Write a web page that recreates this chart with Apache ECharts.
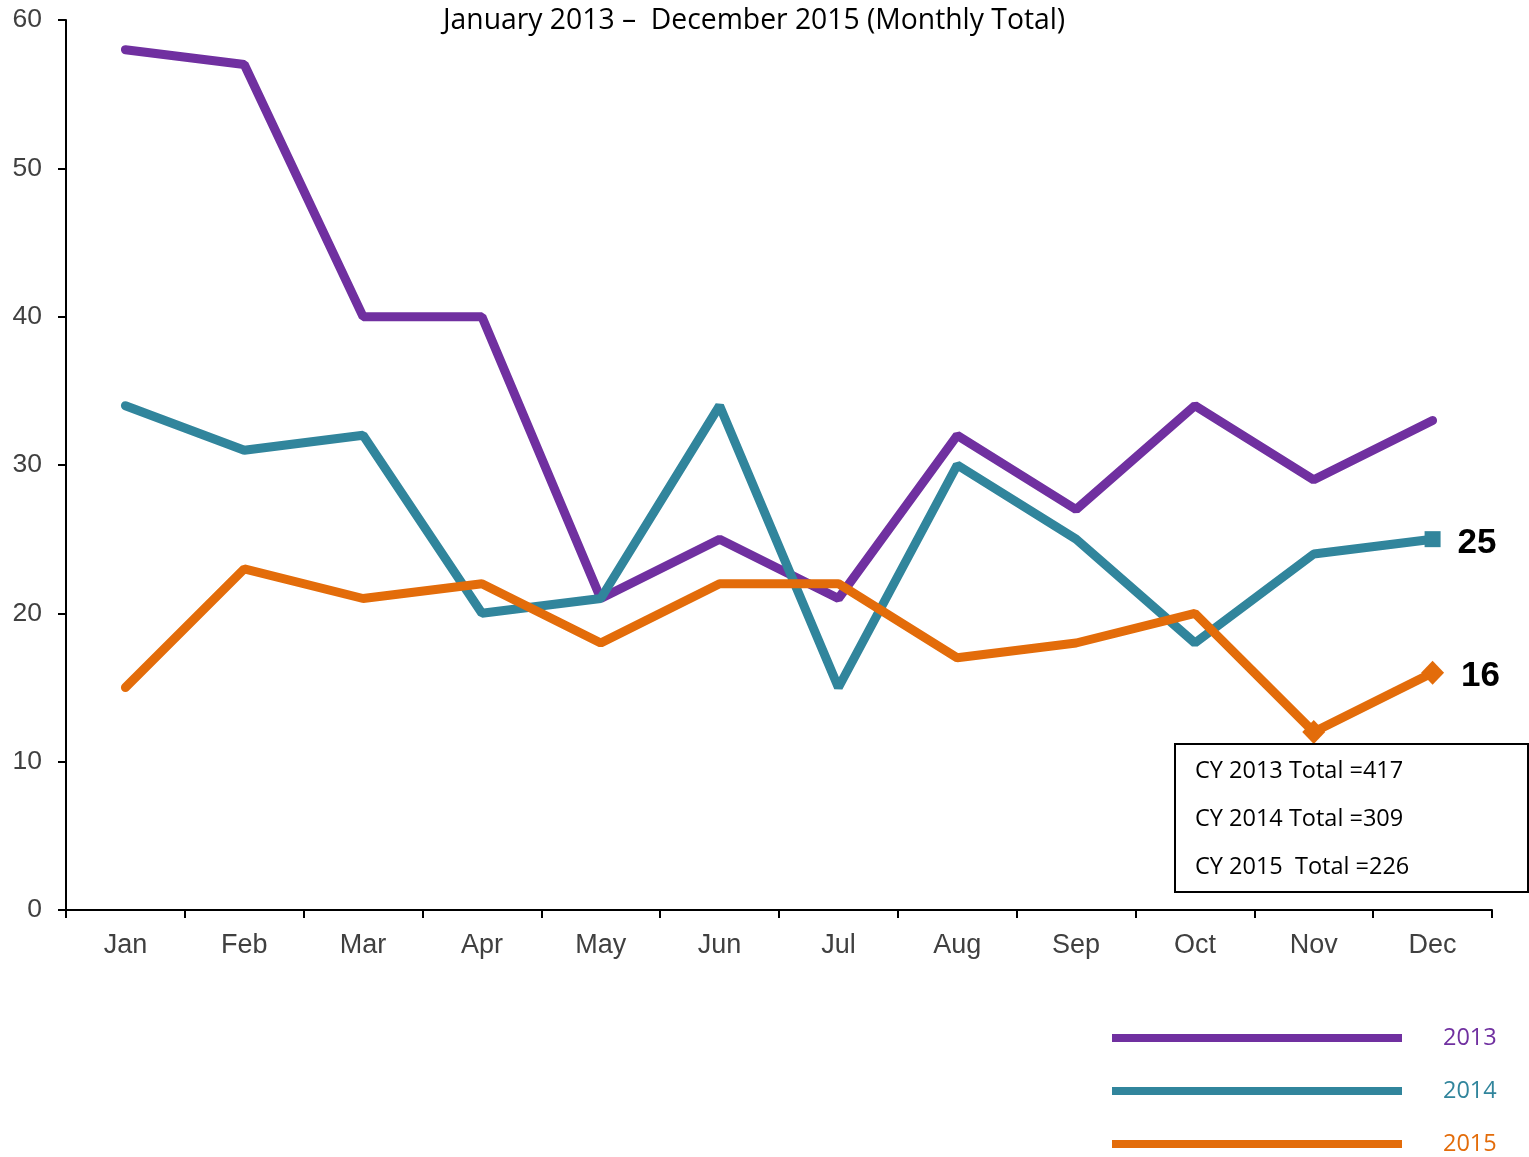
<!DOCTYPE html>
<html><head><meta charset="utf-8">
<script src="https://cdn.jsdelivr.net/npm/echarts@6/dist/echarts.min.js"></script>
<style>html,body{margin:0;padding:0;background:#fff}#c{width:1529px;height:1157px}</style>
</head><body><div id="c"></div>
<script>
const months = ['Jan','Feb','Mar','Apr','May','Jun','Jul','Aug','Sep','Oct','Nov','Dec'];
const s2013 = [58,57,40,40,21,25,21,32,27,34,29,33];
const s2014 = [34,31,32,20,21,34,15,30,25,18,24,25];
const s2015 = [15,23,21,22,18,22,22,17,18,20,12,16];
const yTicks = [0,10,20,30,40,50,60];
const titleText = 'January 2013 \u2013  December 2015 (Monthly Total)';
const totals = ['CY 2013 Total =417','CY 2014 Total =309','CY 2015  Total =226'];
const colors = {'2013':'#7030a0','2014':'#31859c','2015':'#e36c0a'};

const chart = echarts.init(document.getElementById('c'));
const lastIdx = months.length - 1;
function withMarkers(arr, markIdx, symbol, size, showLabelAtEnd) {
  return arr.map((v, i) => {
    const o = {value: v};
    if (markIdx.includes(i)) {
      o.symbol = symbol; o.symbolSize = size;
      o.itemStyle = {opacity: 1};
    }
    if (showLabelAtEnd && i === lastIdx) {
      o.label = {show: true, position: 'right', distance: 17, offset: [0, 4], fontFamily: 'Liberation Sans, Arial', fontWeight: 'bold', fontSize: 35, color: '#000', formatter: '{c}'};
    }
    return o;
  });
}
chart.setOption({
  animation: false,
  grid: {left: 66, right: 37, top: 20, bottom: 247},
  title: {text: titleText, left: 443, top: 7, padding: 0, textStyle: {fontFamily: 'Open Sans, Noto Sans', fontWeight: 'normal', fontSize: 28.3, color: '#000'}},
  xAxis: {
    type: 'category', data: months, boundaryGap: true,
    axisLine: {lineStyle: {color: '#000', width: 2}},
    axisTick: {show: true, length: 8, lineStyle: {color: '#000', width: 2}},
    axisLabel: {margin: 22, fontFamily: 'Liberation Sans, Arial', fontSize: 27, color: '#404040'}
  },
  yAxis: {
    type: 'value', min: 0, max: 60, interval: 10,
    axisLine: {show: true, lineStyle: {color: '#000', width: 2}},
    axisTick: {show: true, length: 8, lineStyle: {color: '#000', width: 2}},
    splitLine: {show: false},
    axisLabel: {margin: 24, fontFamily: 'Liberation Sans, Arial', fontSize: 26.5, color: '#404040',
      formatter: v => yTicks.includes(v) ? String(v) : ''}
  },
  legend: {
    orient: 'vertical', left: 1112, top: 1026, height: 140, padding: 0, itemWidth: 290, itemHeight: 8, itemGap: 29,
    icon: 'rect',
    textStyle: {fontFamily: 'Open Sans, Noto Sans', fontSize: 23.5, lineHeight: 24, padding: [0,0,0,36]},
    data: [
      {name: '2013', textStyle: {color: colors['2013']}},
      {name: '2014', textStyle: {color: colors['2014']}},
      {name: '2015', textStyle: {color: colors['2015']}}
    ]
  },
  series: [
    {name: '2013', type: 'line', data: s2013, color: colors['2013'], lineStyle: {width: 9, cap: 'round'}, showSymbol: false, symbol: 'none'},
    {name: '2014', type: 'line', data: withMarkers(s2014, [lastIdx], 'rect', 16, true), color: colors['2014'], lineStyle: {width: 9, cap: 'round'}, symbol: 'none', showAllSymbol: true},
    {name: '2015', type: 'line', data: withMarkers(s2015, [10, lastIdx], 'diamond', [23, 24], true), color: colors['2015'], lineStyle: {width: 9, cap: 'round'}, symbol: 'none', showAllSymbol: true}
  ],
  graphic: [
    {type: 'rect', shape: {x: 1175, y: 744, width: 353, height: 148}, style: {fill: '#fff', stroke: '#000', lineWidth: 2}, z: 10},
    {type: 'text', x: 1195, y: 759, z: 11, style: {text: totals[0], font: '23.5px "Open Sans", "Noto Sans"', fill: '#000'}},
    {type: 'text', x: 1195, y: 807, z: 11, style: {text: totals[1], font: '23.5px "Open Sans", "Noto Sans"', fill: '#000'}},
    {type: 'text', x: 1195, y: 855, z: 11, style: {text: totals[2], font: '23.5px "Open Sans", "Noto Sans"', fill: '#000'}}
  ]
});
</script></body></html>
